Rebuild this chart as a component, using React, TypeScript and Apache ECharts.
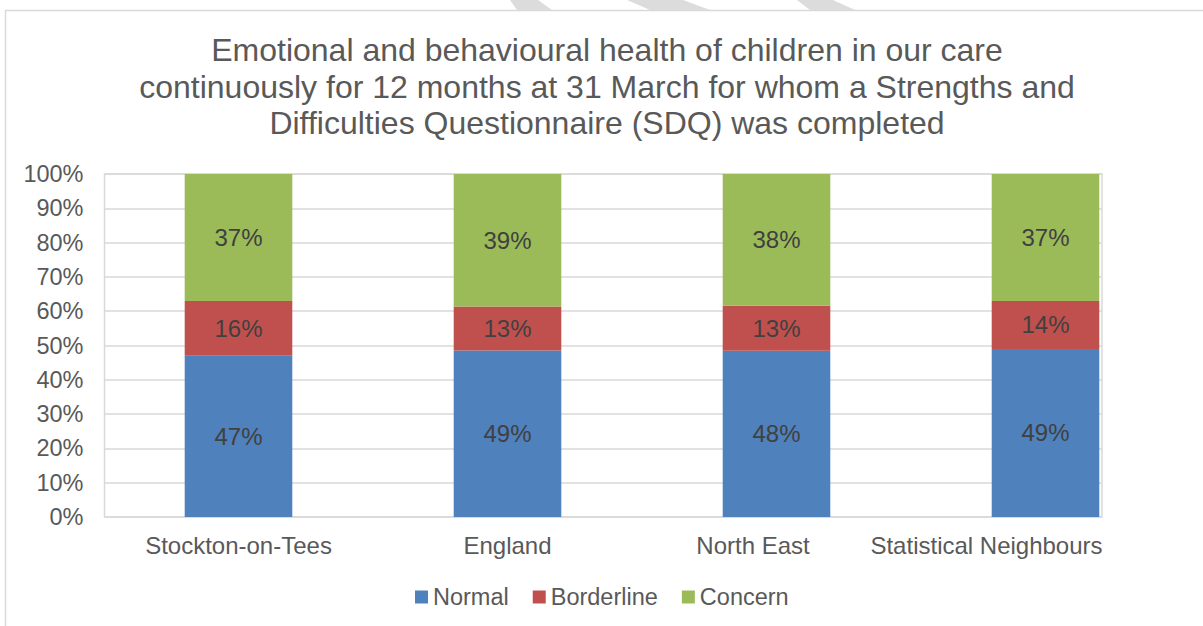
import React, { useEffect, useRef } from "react";
import * as echarts from "echarts";

const categories = ["Stockton-on-Tees", "England", "North East", "Statistical Neighbours"];
const normalValues = [47, 49, 48, 49];
const borderlineValues = [16, 13, 13, 14];
const concernValues = [37, 39, 38, 37];
const yTickMax = 100;
const yTickStep = 10;

const titleLines = [
  "Emotional and behavioural health of children in our care",
  "continuously for 12 months at 31 March for whom a Strengths and",
  "Difficulties Questionnaire (SDQ) was completed",
];

// horizontal label nudges (Excel shifts the last labels leftwards)
const labelPadRight = [0, 0, 47, 118];

const FONT = "'Liberation Sans', Arial, Helvetica, sans-serif";

export default function App() {
  const ref = useRef<HTMLDivElement>(null);
  useEffect(() => {
    if (!ref.current) return;
    const chart = echarts.init(ref.current, undefined, { renderer: "svg" });
    const totals = categories.map((_, i) => normalValues[i] + borderlineValues[i] + concernValues[i]);
    const share = (arr: number[]) => arr.map((v, i) => ({ value: (v / totals[i]) * 100, raw: v }));
    const mk = (name: string, arr: number[], color: string) => ({
      name,
      type: "bar",
      stack: "total",
      xAxisIndex: 1,
      yAxisIndex: 1,
      barWidth: "40%",
      data: share(arr),
      itemStyle: { color },
      label: {
        show: true,
        position: "inside",
        color: "#404040",
        fontSize: 24,
        fontFamily: FONT,
        formatter: (p: any) => `${p.data.raw}%`,
      },
    });
    const rich: Record<string, any> = {};
    labelPadRight.forEach((p, i) => {
      rich["s" + i] = { fontFamily: FONT, fontSize: 24, color: "#595959", padding: [0, p, 0, 0] };
    });
    chart.setOption({
      animation: false,
      backgroundColor: "#ffffff",
      textStyle: { fontFamily: FONT },
      legend: {
        left: 410,
        top: 580,
        itemWidth: 13,
        itemHeight: 13,
        itemGap: 24,
        icon: "rect",
        textStyle: { fontFamily: FONT, fontSize: 23.5, color: "#595959" },
        data: ["Normal", "Borderline", "Concern"],
      },
      grid: [
        {
          left: 104.5,
          right: 101,
          top: 174,
          bottom: 109,
          show: true,
          borderColor: "#d9d9d9",
          borderWidth: 1.5,
        },
        { left: 104, right: 23, top: 174, bottom: 109 },
      ],
      xAxis: [
        { gridIndex: 0, type: "category", data: categories, show: false },
        {
          gridIndex: 1,
          type: "category",
          data: categories,
          axisTick: { show: false },
          axisLine: { show: false },
          axisLabel: {
            margin: 16,
            interval: 0,
            formatter: (v: string, i: number) => `{s${i}|${v}}`,
            rich,
          },
        },
      ],
      yAxis: [
        {
          gridIndex: 0,
          type: "value",
          min: 0,
          max: yTickMax,
          interval: yTickStep,
          axisLine: { show: false },
          axisTick: { show: false },
          splitLine: { lineStyle: { color: "#d9d9d9", width: 1.5 } },
          axisLabel: { fontFamily: FONT, fontSize: 23.5, color: "#595959", margin: 21, formatter: "{value}%" },
        },
        { gridIndex: 1, type: "value", min: 0, max: yTickMax, interval: yTickStep, show: false, splitLine: { show: false } },
      ],
      graphic: [
        {
          type: "polygon",
          silent: true,
          shape: { points: [[510, 0], [538, 0], [552, 10], [517, 10]] },
          style: { fill: "#dcdcdc" },
        },
        {
          type: "polygon",
          silent: true,
          shape: { points: [[627, 0], [683, 0], [710, 10], [650, 10]] },
          style: { fill: "#dcdcdc" },
        },
        {
          type: "polygon",
          silent: true,
          shape: { points: [[797, 0], [833, 0], [855, 10], [810, 10]] },
          style: { fill: "#dcdcdc" },
        },
        {
          type: "rect",
          silent: true,
          shape: { x: 5.5, y: 10.5, width: 1300, height: 700 },
          style: { fill: "none", stroke: "#d9d9d9", lineWidth: 1.5 },
        },
        ...titleLines.map((t, i) => ({
          type: "text",
          silent: true,
          x: 607,
          y: 50 + i * 36.5,
          style: {
            text: t,
            fontFamily: FONT,
            fontSize: 32,
            fill: "#595959",
            textAlign: "center",
            textVerticalAlign: "middle",
          },
        })),
      ],
      series: [
        mk("Normal", normalValues, "#4f81bd"),
        mk("Borderline", borderlineValues, "#c0504d"),
        mk("Concern", concernValues, "#9bbb59"),
      ],
    });
    return () => chart.dispose();
  }, []);
  return <div ref={ref} style={{ position: "fixed", left: 0, top: 0, width: 1203, height: 626 }} />;
}
